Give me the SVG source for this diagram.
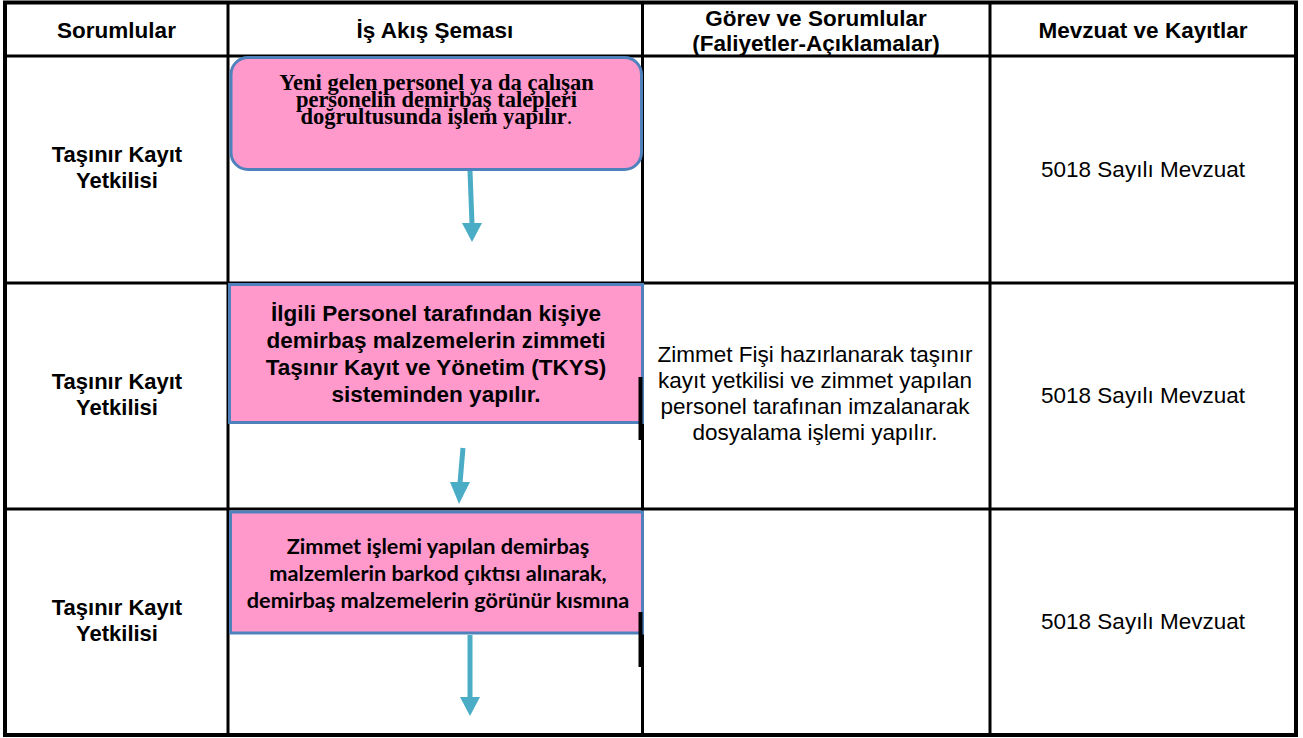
<svg xmlns="http://www.w3.org/2000/svg" width="1303" height="738" viewBox="0 0 1303 738">
<style>
.grid{stroke:#000;stroke-width:3;fill:none}
.outer{stroke:#000;stroke-width:4;fill:none}
.hdr{font-family:"Liberation Sans",Arial,sans-serif;font-weight:bold;font-size:22.5px;fill:#000;text-anchor:middle}
.role{font-family:"Liberation Sans",Arial,sans-serif;font-weight:bold;font-size:22px;fill:#000;text-anchor:middle}
.body{font-family:"Liberation Sans",Arial,sans-serif;font-size:22.5px;fill:#000;text-anchor:middle}
.box{fill:#FF99CC;stroke:#4F81BD;stroke-width:3}
.t1{font-family:"Liberation Serif","Times New Roman",serif;font-weight:bold;font-size:22.5px;fill:#000;text-anchor:middle}
.t2{font-family:"Liberation Sans",Arial,sans-serif;font-weight:bold;font-size:22.5px;fill:#000;text-anchor:middle}
.t3{font-family:Lato,"Open Sans",sans-serif;font-weight:bold;font-size:21.7px;fill:#000;text-anchor:middle}
.shaft{stroke:#4BACC6;stroke-width:5;fill:none}
.head{fill:#4BACC6}
.tick{stroke:#000;stroke-width:4}
</style>
<rect x="0" y="0" width="1303" height="738" fill="#fff"/>
<g id="table">
<rect class="outer" x="5" y="2.5" width="1291" height="732.5"/>
<line class="grid" x1="5" y1="56" x2="1296" y2="56"/>
<line class="grid" x1="5" y1="283" x2="1296" y2="283"/>
<line class="grid" x1="5" y1="509" x2="1296" y2="509"/>
<line class="grid" x1="228" y1="2" x2="228" y2="735"/>
<line class="grid" x1="642.5" y1="2" x2="642.5" y2="735"/>
<line class="grid" x1="990" y1="2" x2="990" y2="735"/>
</g>
<g id="headers">
<text class="hdr" x="116.5" y="38">Sorumlular</text>
<text class="hdr" x="435" y="38">İş Akış Şeması</text>
<text class="hdr" x="816" y="26">Görev ve Sorumlular</text>
<text class="hdr" x="816" y="51">(Faliyetler-Açıklamalar)</text>
<text class="hdr" x="1143" y="38">Mevzuat ve Kayıtlar</text>
</g>
<g id="roles">
<text class="role" x="117" y="162">Taşınır Kayıt</text>
<text class="role" x="117" y="188">Yetkilisi</text>
<text class="role" x="117" y="389">Taşınır Kayıt</text>
<text class="role" x="117" y="415">Yetkilisi</text>
<text class="role" x="117" y="615">Taşınır Kayıt</text>
<text class="role" x="117" y="641">Yetkilisi</text>
</g>
<g id="mevzuat">
<text class="body" x="1143" y="177">5018 Sayılı Mevzuat</text>
<text class="body" x="1143" y="403">5018 Sayılı Mevzuat</text>
<text class="body" x="1143" y="629">5018 Sayılı Mevzuat</text>
</g>
<g id="gorev2">
<text class="body" x="815" y="362">Zimmet Fişi hazırlanarak taşınır</text>
<text class="body" x="815" y="388">kayıt yetkilisi ve zimmet yapılan</text>
<text class="body" x="815" y="414">personel tarafınan imzalanarak</text>
<text class="body" x="815" y="440">dosyalama işlemi yapılır.</text>
</g>
<g id="node1">
<rect class="box" x="231" y="57.5" width="410.5" height="112" rx="17"/>
<text class="t1" x="436.5" y="90">Yeni gelen personel ya da çalışan</text>
<text class="t1" x="436.5" y="107">personelin demirbaş talepleri</text>
<text class="t1" x="436.5" y="124">doğrultusunda işlem yapılır<tspan font-weight="normal">.</tspan></text>
</g>
<g id="node2">
<rect class="box" x="229.5" y="284.5" width="413" height="138"/>
<text class="t2" x="436" y="321">İlgili Personel tarafından kişiye</text>
<text class="t2" x="436" y="348">demirbaş malzemelerin zimmeti</text>
<text class="t2" x="436" y="375">Taşınır Kayıt ve Yönetim (TKYS)</text>
<text class="t2" x="436" y="402">sisteminden yapılır.</text>
</g>
<g id="node3">
<rect class="box" x="230.5" y="512" width="412" height="121"/>
<text class="t3" x="438" y="554">Zimmet işlemi yapılan demirbaş</text>
<text class="t3" x="438" y="581">malzemlerin barkod çıktısı alınarak,</text>
<text class="t3" x="438" y="608">demirbaş malzemelerin görünür kısmına</text>
</g>
<g id="connectors">
<line class="shaft" x1="470" y1="171" x2="472" y2="224"/>
<polygon class="head" points="462,223 482,223 472,242"/>
<line class="shaft" x1="463" y1="448" x2="460" y2="483"/>
<polygon class="head" points="450,482 470,482 459,504"/>
<line class="shaft" x1="470" y1="635" x2="470" y2="698"/>
<polygon class="head" points="460,697 480,697 470,716"/>
</g>
<g id="marks">
<line class="tick" x1="640.5" y1="377" x2="640.5" y2="440"/>
<line class="tick" x1="640.5" y1="612" x2="640.5" y2="667"/>
</g>
</svg>
